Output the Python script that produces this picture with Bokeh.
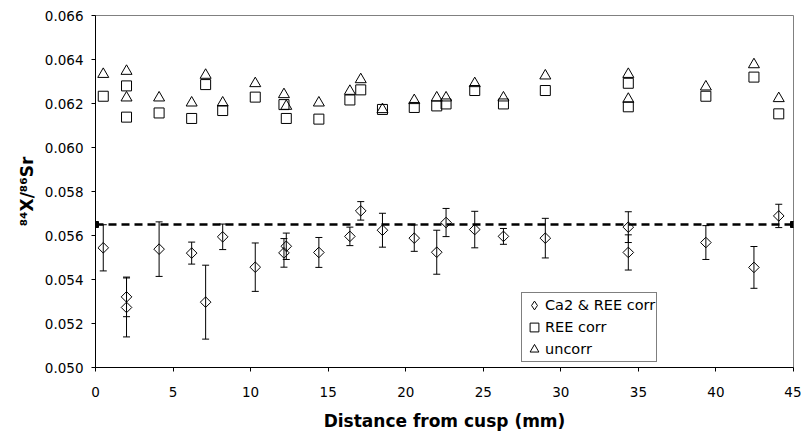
from bokeh.plotting import figure
from bokeh.models import (Range1d, FixedTicker, NumeralTickFormatter, ColumnDataSource,
                          Whisker, TeeHead, Legend, LegendItem)
from bokeh.embed import file_html
from bokeh.resources import INLINE
import math

# ---- data ----
distance = [0.5, 2.0, 2.0, 4.1, 6.2, 7.1, 8.2, 10.3, 12.15, 12.3, 14.4, 16.4, 17.1, 18.5,
            20.55, 22.0, 22.6, 24.45, 26.3, 29.0, 34.35, 34.35, 39.35, 42.45, 44.05]
ca2_ree_corr = [0.05544, 0.05321, 0.05273, 0.05538, 0.05520, 0.05297, 0.05594, 0.05456,
                0.05521, 0.05551, 0.05523, 0.05596, 0.05712, 0.05624, 0.05588, 0.05524,
                0.05659, 0.05627, 0.05596, 0.05588, 0.05638, 0.05523, 0.05568, 0.05455,
                0.05689]
ca2_ree_err = [0.00105, 0.00090, 0.00134, 0.00124, 0.00050, 0.00168, 0.00058, 0.00110,
               0.00065, 0.00060, 0.00068, 0.00042, 0.00042, 0.00077, 0.00060, 0.00100,
               0.00064, 0.00083, 0.00036, 0.00090, 0.00070, 0.00080, 0.00077, 0.00095,
               0.00053]
ree_corr = [0.06233, 0.06280, 0.06138, 0.06157, 0.06132, 0.06286, 0.06168, 0.06229,
            0.06195, 0.06132, 0.06129, 0.06216, 0.06262, 0.06173, 0.06182, 0.06189,
            0.06198, 0.06259, 0.06198, 0.06259, 0.06292, 0.06185, 0.06233, 0.06320,
            0.06153]
uncorr = [0.06333, 0.06347, 0.06226, 0.06226, 0.06203, 0.06329, 0.06203, 0.06291,
          0.06241, 0.06188, 0.06203, 0.06256, 0.06309, 0.06173, 0.06214, 0.06226,
          0.06226, 0.06291, 0.06226, 0.06326, 0.06333, 0.06220, 0.06276, 0.06377,
          0.06223]
ref_x = [0, 45]
ref_y = [0.0565, 0.0565]
y_ticks = [0.050, 0.052, 0.054, 0.056, 0.058, 0.060, 0.062, 0.064, 0.066]
x_ticks = [0, 5, 10, 15, 20, 25, 30, 35, 40, 45]
series_labels = ["Ca2 & REE corr", "REE corr", "uncorr"]

FONT = "DejaVu Sans"

p = figure(width=801, height=434, output_backend="svg", toolbar_location=None,
           x_range=Range1d(0, 45), y_range=Range1d(0.050, 0.066),
           min_border_left=95, min_border_right=8, min_border_top=15, min_border_bottom=67)
p.background_fill_color = "white"
p.border_fill_color = "white"
p.outline_line_color = "#808080"
p.outline_line_width = 1
p.xgrid.visible = False
p.ygrid.visible = False

for ax in (p.xaxis[0], p.yaxis[0]):
    ax.axis_line_color = "black"
    ax.axis_line_width = 1
    ax.major_tick_line_color = "black"
    ax.major_tick_in = 0
    ax.major_tick_out = 4
    ax.minor_tick_line_color = None
    ax.major_label_text_font = FONT
    ax.major_label_text_font_size = "13.5px"
    ax.major_label_text_color = "black"
    ax.axis_label_text_font = FONT
    ax.axis_label_text_font_style = "bold"
    ax.axis_label_text_color = "black"

p.yaxis.ticker = FixedTicker(ticks=y_ticks)
p.yaxis.formatter = NumeralTickFormatter(format="0.000")
p.xaxis.ticker = FixedTicker(ticks=x_ticks)
p.yaxis.major_label_standoff = 8
p.xaxis.major_label_standoff = 15

p.xaxis.axis_label = "Distance from cusp (mm)"
p.xaxis.axis_label_text_font_size = "17px"
p.xaxis.axis_label_standoff = 11
p.yaxis.axis_label = "\u2078\u2074X/\u2078\u2076Sr"
p.yaxis.axis_label_text_font_size = "17px"
p.yaxis.axis_label_standoff = 5

# dashed reference line
p.line(ref_x, ref_y, line_color="black", line_width=2.5, line_dash="8 5")
p.scatter(ref_x, ref_y, marker="square", size=6, color="black")

# error bars
upper = [v + e for v, e in zip(ca2_ree_corr, ca2_ree_err)]
lower = [v - e for v, e in zip(ca2_ree_corr, ca2_ree_err)]
src_err = ColumnDataSource(dict(x=distance, upper=upper, lower=lower))
wh = Whisker(source=src_err, base="x", upper="upper", lower="lower",
             line_color="black", line_width=1,
             upper_head=TeeHead(size=7, line_color="black", line_width=1),
             lower_head=TeeHead(size=7, line_color="black", line_width=1))
p.add_layout(wh)

r_tri = p.scatter(distance, uncorr, marker="triangle", size=11, fill_color=None,
                  line_color="black", line_width=1)
r_sq = p.scatter(distance, ree_corr, marker="square", size=10, fill_color=None,
                 line_color="black", line_width=1)
r_dia = p.scatter(distance, ca2_ree_corr, marker="square", angle=math.pi / 4, size=7.5,
                  fill_color=None, line_color="black", line_width=1)
# legend-only swatch for the diamond series (a single off-plot NaN entry, never drawn)
nan = float("nan")
r_dia_key = p.scatter(x=[nan], y=[nan], marker="diamond", size=10, fill_color=None,
                      line_color="black", line_width=1)

legend = Legend(items=[LegendItem(label=series_labels[0], renderers=[r_dia_key]),
                       LegendItem(label=series_labels[1], renderers=[r_sq]),
                       LegendItem(label=series_labels[2], renderers=[r_tri])],
                location=(426, 5), margin=0, padding=1, spacing=0,
                glyph_width=22, glyph_height=22, label_height=22, label_standoff=0,
                label_text_font=FONT, label_text_font_size="14.5px",
                label_text_color="black",
                border_line_color="black", border_line_width=1,
                background_fill_color="white", background_fill_alpha=1)
p.add_layout(legend)

open("out.html", "w").write(file_html(p, INLINE))
